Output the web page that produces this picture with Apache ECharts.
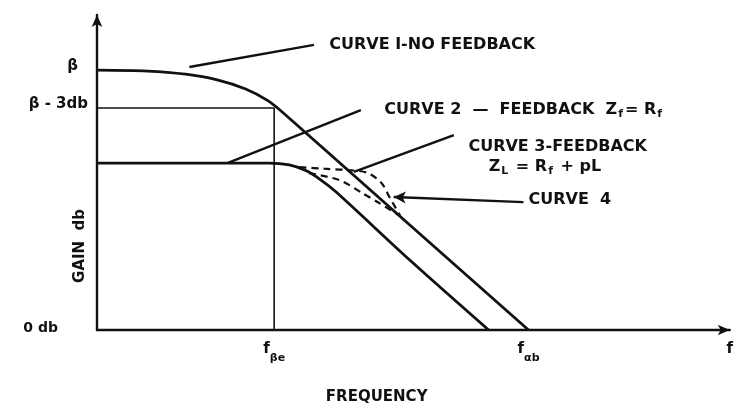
<!DOCTYPE html>
<html>
<head>
<meta charset="utf-8">
<script src="https://cdn.jsdelivr.net/npm/echarts@6/dist/echarts.min.js"></script>
<style>
  html, body { margin: 0; padding: 0; background: #fff; }
  #chart { width: 736px; height: 410px; }
</style>
</head>
<body>
<div id="chart"></div>
<script>
// frequency (0..100 along the axis) vs gain (0..100 along the axis)
const curve1 = [[0, 82.5], [8, 82.2], [14, 81.2], [19, 79.4], [23.5, 76.5], [27, 72.8], [29.5, 68.8], [48.5, 35.0], [68.2, 0]]
const curve2 = [[0, 53], [27.2, 53], [30.4, 52.4], [33, 50.6], [35.4, 47.6], [37.8, 43.8], [49.6, 21.9], [61.9, 0]]
const curve3 = [[32.0, 51.7], [35.9, 51.2], [39.4, 50.8], [42.6, 50.0], [44.9, 46.8], [46.3, 41.9], [47.9, 36.3]]
const curve4 = [[33.5, 49.8], [38.3, 47.6], [41.9, 43.5], [44.6, 40.3], [47.6, 36.6]]
const cutoff = [[0, 70.5], [28, 70.5], [28, 0]]

const yTicks = [0, 70.5, 82.5]
const yTickLabels = ['{z|0 db}', '{t|β - 3db}', '{b|β}']
const xTicks = [28, 68.2, 100]
const xTickLabels = ['{f|f}{s|βe}', '{f|f}{s|αb}', '{f|f}']

// leader lines from each note to its curve
const leaders = [
  [[14.6, 83.5], [34.3, 90.5]],
  [[20.6, 53.0], [41.7, 69.8]],
  [[40.6, 50.2], [56.4, 61.9]],
]
const arrow4 = [[67.4, 40.6], [46.9, 42.2]]

const notes = [
  { pos: [36.7, 90.5], text: '{t|CURVE I-NO FEEDBACK}' },
  { pos: [45.4, 69.8], text: '{t|CURVE 2  —  FEEDBACK  Z}{s|f}{t|= R}{s|f}' },
  { pos: [58.7, 58.1], text: '{t|CURVE 3-FEEDBACK}' },
  { pos: [61.9, 51.9], text: '{t|Z}{s|L}{t| = R}{s|f}{t| + pL}' },
  { pos: [68.2, 41.3], text: '{t|CURVE  4}' },
]

const ink = '#111'
const font = 'DejaVu Sans'
const noteRich = {
  t: { fontFamily: font, fontSize: 16, fontWeight: 'bold', color: ink, lineHeight: 20, verticalAlign: 'middle' },
  s: { fontFamily: font, fontSize: 11, fontWeight: 'bold', color: ink, lineHeight: 20, verticalAlign: 'bottom', padding: [0, 2, 0, 1] },
}

const chart = echarts.init(document.getElementById('chart'))
const curve = (data, dashed) => ({
  type: 'line', data, symbol: 'none', smooth: 0.3,
  lineStyle: { color: ink, width: dashed ? 2.2 : 2.8, type: dashed ? [7, 5] : 'solid' },
  silent: true, z: 3,
})

chart.setOption({
  backgroundColor: '#fff',
  animation: false,
  grid: { left: 97, right: 4, top: 15, bottom: 80 },
  xAxis: {
    type: 'value', min: 0, max: 100,
    splitLine: { show: false },
    axisLine: { lineStyle: { color: ink, width: 2.4 }, symbol: ['none', 'arrow'], symbolSize: [8, 12] },
    axisTick: { show: false },
    axisLabel: {
      customValues: xTicks, margin: 12,
      formatter: v => xTickLabels[xTicks.indexOf(v)],
      rich: {
        f: { fontFamily: font, fontSize: 15, fontWeight: 'bold', color: ink, lineHeight: 22, verticalAlign: 'top' },
        s: { fontFamily: font, fontSize: 11, fontWeight: 'bold', color: ink, lineHeight: 22, verticalAlign: 'bottom' },
      },
    },
  },
  yAxis: {
    type: 'value', min: 0, max: 100,
    splitLine: { show: false },
    axisLine: { lineStyle: { color: ink, width: 2.4 }, symbol: ['none', 'arrow'], symbolSize: [8, 12] },
    axisTick: { show: false },
    axisLabel: {
      customValues: yTicks, margin: 9,
      formatter: v => yTickLabels[yTicks.indexOf(v)],
      rich: {
        t: { fontFamily: font, fontSize: 15, fontWeight: 'bold', color: ink, padding: [0, 0, 8, 0] },
        b: { fontFamily: font, fontSize: 15, fontWeight: 'bold', color: ink, padding: [0, 10, 8, 0] },
        z: { fontFamily: font, fontSize: 14, fontWeight: 'bold', color: ink, padding: [0, 30, 4, 0] },
      },
    },
  },
  series: [
    curve(curve1, false),
    curve(curve2, false),
    curve(curve3, true),
    curve(curve4, true),
    {
      type: 'line', data: cutoff, symbol: 'none', silent: true, z: 2,
      lineStyle: { color: ink, width: 1.6 },
      markLine: {
        silent: true, symbol: ['none', 'none'],
        lineStyle: { color: ink, width: 2.4, type: 'solid' }, label: { show: false },
        data: leaders.map(l => [{ coord: l[0] }, { coord: l[1] }]).concat([
          [{ coord: arrow4[0], symbol: 'none' }, { coord: arrow4[1], symbol: 'arrow', symbolSize: [9, 12] }],
        ]),
      },
    },
    {
      type: 'scatter', symbolSize: 0, silent: true, clip: false,
      itemStyle: { opacity: 1, color: ink },
      data: notes.map(n => ({ value: n.pos, label: { formatter: n.text } })),
      label: { show: true, position: 'right', distance: 0, rich: noteRich },
    },
    {
      type: 'scatter', symbolSize: 0, silent: true, clip: false,
      itemStyle: { opacity: 1, color: ink },
      data: [
        { value: [-2.6, 26.7], label: { formatter: 'GAIN  db', rotate: 90, position: 'inside', fontSize: 15 } },
        { value: [44.2, -21.3], label: { formatter: 'FREQUENCY', position: 'inside' } },
      ],
      label: { show: true, fontFamily: font, fontSize: 15, fontWeight: 'bold', color: ink },
    },
  ],
})
</script>
</body>
</html>
